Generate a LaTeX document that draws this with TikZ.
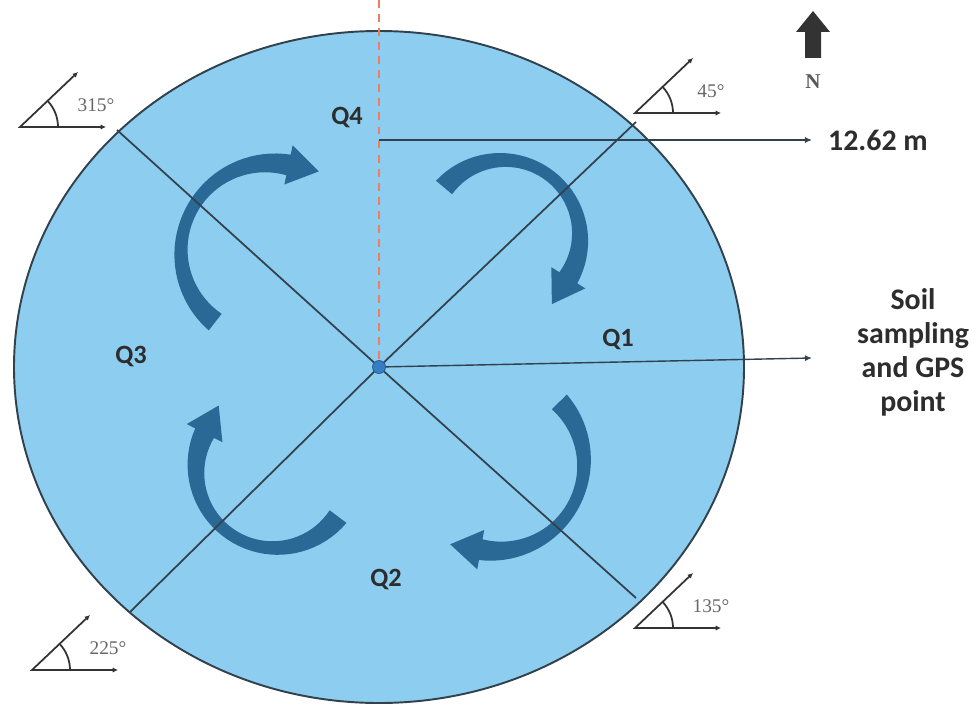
\documentclass[tikz,border=0pt]{standalone}
\usepackage{fontspec}
\setmainfont{Carlito}
\newfontfamily\degfont{Liberation Serif}
\usetikzlibrary{arrows.meta,positioning,calc}
\definecolor{plotblue}{RGB}{140,205,240}
\definecolor{curlblue}{RGB}{42,104,150}
\definecolor{rimgray}{RGB}{50,66,76}
\definecolor{dashred}{RGB}{240,125,95}
\definecolor{textgray}{RGB}{45,45,45}
\definecolor{dotblue}{RGB}{55,125,195}

\tikzstyle{quad} = [font=\fontsize{15}{18}\selectfont\bfseries, text=textgray]
\tikzstyle{lab} = [font=\fontsize{17}{19.3}\selectfont\bfseries, text=textgray]
\tikzstyle{rim} = [draw=rimgray, line width=1.1pt]
\tikzstyle{axis} = [draw=rimgray, line width=1pt]
\tikzstyle{radiusline} = [draw=dashred, line width=1.1pt, dash pattern=on 4.5pt off 3.5pt]
\tikzstyle{pointer} = [-{Latex[length=4pt,width=3.5pt]}, draw=rimgray, line width=0.8pt]
\tikzstyle{gpsdot} = [circle, fill=dotblue, draw=dotblue!70!black, line width=0.4pt, inner sep=0pt, minimum size=0.26cm]
\tikzstyle{curl} = [fill=curlblue]
\tikzstyle{bearing} = [draw=black!80, line width=1pt]
\tikzstyle{deg} = [font=\degfont\fontsize{11}{13}\selectfont, text=black!60]

% curved walking arrow: centre x, centre y, radius, start angle, end angle (clockwise)
\newcommand{\curlarrow}[5]{%
  \fill[curl] plot[domain=0:1, samples=40, variable=\s]
      ({#1+(#3+10.5-4.5*sin(180*\s))*cos(#4+((#5)-(#4))*\s)},{#2+(#3+10.5-4.5*sin(180*\s))*sin(#4+((#5)-(#4))*\s)})
    -- ({#1+(#3+20)*cos(#5)},{#2+(#3+20)*sin(#5)})
    -- ({#1+#3*cos(#5)+31*sin(#5)},{#2+#3*sin(#5)-31*cos(#5)})
    -- ({#1+(#3-20)*cos(#5)},{#2+(#3-20)*sin(#5)})
    -- plot[domain=0:1, samples=40, variable=\s]
      ({#1+(#3-10.5+4.5*sin(180*\s))*cos(#5+((#4)-(#5))*\s)},{#2+(#3-10.5+4.5*sin(180*\s))*sin(#5+((#4)-(#5))*\s)})
    -- cycle;
}
% bearing sign: vertex x, vertex y, text
\newcommand{\bearing}[3]{%
  \draw[bearing, {Latex[length=3pt,width=3pt]}-{Latex[length=3pt,width=3pt]}] (#1+58,#2+55) -- (#1,#2) -- (#1+86,#2);
  \draw[bearing] (#1+38,#2) arc[start angle=0, end angle=43, radius=38];
  \node[deg] at (#1+76,#2+22) {#3};
}

\begin{document}
\begin{tikzpicture}[x=0.02cm, y=0.02cm]
    \useasboundingbox (0,0) rectangle (979,708);

    % Plot
    \coordinate (ctr) at (379,341);
    \fill[plotblue] (ctr) ellipse [x radius=365, y radius=336];

    % Walking arrows
    \curlarrow{503}{471}{77}{140}{-32}
    \curlarrow{270}{456}{89}{232}{78}
    \curlarrow{275}{239}{79}{-37}{-207}
    \curlarrow{496}{245}{88}{44}{-100}

    \draw[rim] (ctr) ellipse [x radius=365, y radius=336];

    % Nodes
    \node[gpsdot] (gps) at (ctr) {};
    \coordinate (ne) at (636,586);
    \coordinate (nw) at (117,578);
    \coordinate (sw) at (130,96);
    \coordinate (se) at (636,110);
    \coordinate (north) at (379,708);
    \coordinate (radmark) at (379,568);
    \coordinate (soilend) at (812,350);

    \node[quad] (q4) at (347,590) {Q4};
    \node[quad] (q1) at (618,368) {Q1};
    \node[quad] (q3) at (131,351) {Q3};
    \node[quad] (q2) at (386,128) {Q2};

    \node[lab, anchor=west, inner xsep=9pt] (rad) at (812,568) {12.62 m};
    \node[lab, align=center] (soil) at (913,356) {Soil\\sampling\\and GPS\\point};

    % Quadrant lines
    \draw[axis] (gps) -- (ne);
    \draw[axis] (gps) -- (nw);
    \draw[axis] (gps) -- (sw);
    \draw[axis] (gps) -- (se);
    \draw[radiusline] (north) -- (gps);

    % Pointers
    \draw[pointer] (radmark) -- (rad.west);
    \draw[pointer] (gps) -- (soilend);

    % North arrow
    \fill[black!80] (805,650) -- (805,676) -- (796,676) -- (813,697) -- (830,676) -- (821,676) -- (821,650) -- cycle;
    \node[font=\degfont\bfseries\fontsize{12}{14}\selectfont, text=black!65] (nlab) at (813,626) {N};

    % Bearings
    \bearing{20}{581}{315°}
    \bearing{635}{595}{45°}
    \bearing{32}{38}{225°}
    \bearing{635}{80}{135°}
\end{tikzpicture}
\end{document}
